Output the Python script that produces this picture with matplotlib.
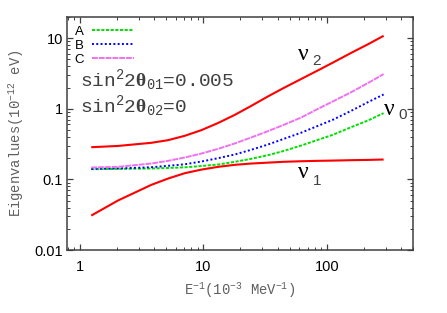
import numpy as np
import matplotlib
matplotlib.use("Agg")
import matplotlib.pyplot as plt
from matplotlib.ticker import LogLocator, NullFormatter, FixedLocator, FixedFormatter

plt.rcParams["mathtext.fontset"] = "custom"
plt.rcParams["mathtext.rm"] = "Liberation Mono"
plt.rcParams["mathtext.it"] = "Liberation Mono"
plt.rcParams["mathtext.bf"] = "Liberation Serif:bold"

# inverse energy (1e-3 MeV^-1)
inv_e = [1.24, 2.04, 3.8, 5.2, 7.1, 9.7, 13.2, 18, 24.5, 33.5, 44.3, 62.3, 85, 112, 158, 216, 289]

nu2 = [0.286, 0.298, 0.33, 0.36, 0.415, 0.50, 0.63, 0.82, 1.10, 1.50, 1.95, 2.65,
       3.5, 4.5, 6.2, 8.2, 10.8]
nu1 = [0.0308, 0.0503, 0.0838, 0.103, 0.1227, 0.138, 0.1508, 0.161, 0.168, 0.173, 0.1776,
       0.181, 0.1834, 0.185, 0.1874, 0.189, 0.1915]
nu0_a = [0.1397, 0.141, 0.1428, 0.1455, 0.1484, 0.155, 0.1627, 0.1776, 0.196, 0.2207, 0.2515,
         0.3025, 0.364, 0.428, 0.550, 0.684, 0.868]
nu0_b = [0.141, 0.143, 0.149, 0.156, 0.164, 0.1795, 0.200, 0.2255, 0.263, 0.3125, 0.372,
         0.4597, 0.574, 0.699, 0.937, 1.243, 1.596]
nu0_c = [0.1476, 0.1508, 0.168, 0.1834, 0.2045, 0.233, 0.271, 0.323, 0.393, 0.483, 0.587,
         0.754, 1.0, 1.27, 1.72, 2.32, 3.10]

labels = ["A", "B", "C"]
text_gray = "#404040"

fig = plt.figure(figsize=(4.47, 3.13), dpi=100)
ax = fig.add_axes([0.150, 0.201, 0.774, 0.745])

ax.plot(inv_e, nu2, color="#ff0000", lw=1.5, solid_capstyle="butt")
ax.plot(inv_e, nu1, color="#ff0000", lw=1.5, solid_capstyle="butt")
la, = ax.plot(inv_e, nu0_a, color="#00e000", lw=1.4, ls=(0, (1.6, 0.8)))
lb, = ax.plot(inv_e, nu0_b, color="#0000ff", lw=1.4, ls=(0, (1.0, 1.2)))
lc, = ax.plot(inv_e, nu0_c, color="#f070f0", lw=1.4, ls=(0, (3.0, 0.5)))

ax.set_xscale("log")
ax.set_yscale("log")
ax.set_xlim(0.79, 500)
ax.set_ylim(0.01, 20)

ax.xaxis.set_major_locator(FixedLocator([1, 10, 100]))
ax.xaxis.set_major_formatter(FixedFormatter(["1", "10", "100"]))
ax.yaxis.set_major_locator(FixedLocator([0.01, 0.1, 1, 10]))
ax.yaxis.set_major_formatter(FixedFormatter(["0.01", "0.1", "1", "10"]))
ax.xaxis.set_minor_locator(LogLocator(base=10, subs=np.arange(2, 10)))
ax.yaxis.set_minor_locator(LogLocator(base=10, subs=np.arange(2, 10)))
ax.xaxis.set_minor_formatter(NullFormatter())
ax.yaxis.set_minor_formatter(NullFormatter())

for s in ax.spines.values():
    s.set_color("#404040")
    s.set_linewidth(1.1)
ax.tick_params(which="both", direction="in", top=True, right=True, color="#404040")
ax.tick_params(which="major", length=4, width=0.9)
ax.tick_params(which="minor", length=2.2, width=0.7)
ax.tick_params(axis="x", which="major", pad=7)
ax.tick_params(axis="y", which="major", pad=3)
for lab in ax.get_xticklabels() + ax.get_yticklabels():
    lab.set_fontfamily("Liberation Sans")
    lab.set_fontsize(10.5)

ax.set_xlabel(r"E$^{-1}$(10$^{-3}$ MeV$^{-1}$)", fontfamily="Liberation Mono",
              fontsize=10, color="#606060", labelpad=5)
ax.set_ylabel(r"Eigenvalues(10$^{-12}$ eV)", fontfamily="Liberation Mono",
              fontsize=10, color="#606060", labelpad=6)

leg = ax.legend([la, lb, lc], labels, loc="upper left", bbox_to_anchor=(0.022, 0.962),
                frameon=False, markerfirst=False, handlelength=3.2, handletextpad=0.6,
                labelspacing=0.12, borderpad=0, borderaxespad=0,
                prop={"family": "Liberation Sans", "size": 9.5})

ax.text(0.038, 0.70, r"sin$^{2}$2$\mathbf{\theta}_{01}$=0.005", transform=ax.transAxes,
        fontfamily="Liberation Mono", fontsize=14, color=text_gray, va="baseline")
ax.text(0.038, 0.592, r"sin$^{2}$2$\mathbf{\theta}_{02}$=0", transform=ax.transAxes,
        fontfamily="Liberation Mono", fontsize=14, color=text_gray, va="baseline")

# eigenvalue labels
for name, sub, xn, yn, xs, ys in [("\u03bd", "2", 0.668, 0.839, 0.708, 0.811),
                                  ("\u03bd", "0", 0.917, 0.605, 0.957, 0.579),
                                  ("\u03bd", "1", 0.668, 0.333, 0.711, 0.296)]:
    ax.text(xn, yn, name, transform=ax.transAxes, fontfamily="Liberation Serif",
            fontsize=17, color="black", va="center", ha="left")
    ax.text(xs, ys, sub, transform=ax.transAxes, fontfamily="Liberation Sans",
            fontsize=11, color=text_gray, va="center", ha="left")

fig.savefig("out.png", dpi=100)
